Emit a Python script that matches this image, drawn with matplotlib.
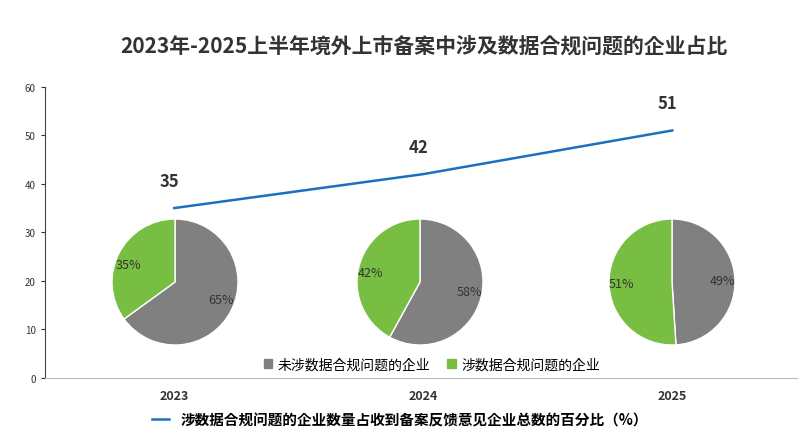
import matplotlib.pyplot as plt
from matplotlib.patches import Patch

plt.rcParams['font.family'] = ['Noto Sans CJK SC', 'Noto Sans CJK JP', 'DejaVu Sans']

years = ['2023', '2024', '2025']
share = [35, 42, 51]
not_involved = [65, 58, 49]
involved = [35, 42, 51]
pie_labels = ['未涉数据合规问题的企业', '涉数据合规问题的企业']
line_label = '涉数据合规问题的企业数量占收到备案反馈意见企业总数的百分比（%）'

gray = '#808080'
green = '#78be43'
blue = '#1a6fc0'

fig = plt.figure(figsize=(8, 4.39), dpi=100)
ax = fig.add_axes([0.056, 0.137, 0.94, 0.663])
x = list(range(len(years)))
line, = ax.plot(x, share, color=blue, lw=1.8)
for xi, v in zip(x, share):
    ax.text(xi - 0.02, v + 3.8, str(v), ha='center', va='bottom', fontsize=12, fontweight='bold', color='#333333')
ax.set_xlim(-0.52, 2.5)
ax.set_ylim(0, 60)
ax.set_yticks(range(0, 61, 10))
ax.set_xticks(x)
ax.set_xticklabels(years, fontweight='bold', fontsize=9, color='#333333')
ax.tick_params(axis='y', labelsize=7, colors='#333333', length=3)
ax.tick_params(axis='x', length=0, pad=8)
for s in ['top', 'right']:
    ax.spines[s].set_visible(False)
ax.spines['left'].set_color('#444444')
ax.spines['bottom'].set_color('#bbbbbb')

fig.suptitle('2023年-2025上半年境外上市备案中涉及数据合规问题的企业占比', x=0.53, y=0.92,
             fontsize=15, fontweight='bold', color='#333333')

centers = [175, 420, 672]
r = 63
for cx, a, b in zip(centers, not_involved, involved):
    pax = fig.add_axes([(cx - r) / 800, (439 - 283 - r) / 439, 2 * r / 800, 2 * r / 439])
    pax.pie([a, b], colors=[gray, green], startangle=90, counterclock=False,
            labels=[f'{a}%', f'{b}%'], labeldistance=0.6,
            wedgeprops=dict(edgecolor='white', linewidth=1),
            textprops=dict(fontsize=9, color='#333333'))
    pax.set_xlim(-1, 1)
    pax.set_ylim(-1, 1)
    pax.set_aspect('equal')

fig.legend(handles=[Patch(color=gray), Patch(color=green)], labels=pie_labels,
           loc='center', bbox_to_anchor=(0.54, 0.168), ncol=2, frameon=False,
           fontsize=10, handlelength=0.6, handleheight=0.6, columnspacing=1.2, handletextpad=0.4)
fig.legend(handles=[line], labels=[line_label], loc='center', bbox_to_anchor=(0.5, 0.043),
           frameon=False, handlelength=1.2, prop=dict(weight='bold', size=10.5))

fig.savefig('out.png', dpi=100)
